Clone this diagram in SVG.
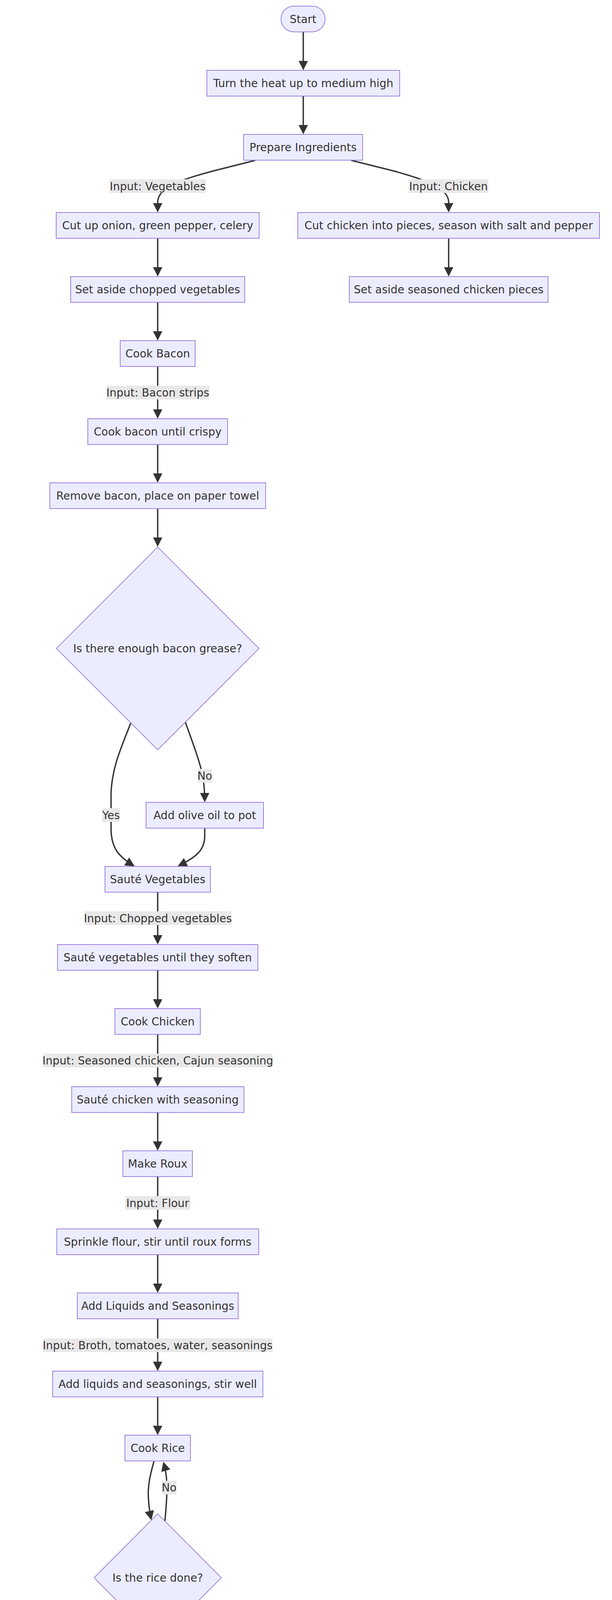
<svg xmlns="http://www.w3.org/2000/svg" width="1568" height="5128" viewBox="0 0 1568 5128">
<style>
.nd{fill:#ECECFF;stroke:#9370DB;stroke-width:1.75}
.t{font-family:"DejaVu Sans","Liberation Sans",sans-serif;font-size:28px;fill:#333333;text-anchor:middle}
.e{fill:none;stroke:#333333;stroke-width:3.5;marker-end:url(#arr)}
.lb{fill:#e8e8e8}
</style>
<defs>
<marker id="arr" viewBox="0 0 10 10" refX="8.4" refY="5" markerUnits="userSpaceOnUse" markerWidth="24" markerHeight="24" orient="auto">
<path d="M0,0 L10,5 L0,10 z" fill="#333333"/>
</marker>
</defs>
<rect x="0" y="0" width="1568" height="5128" fill="#ffffff"/>
<g id="connectors">
<path class="e" d="M777,81.5 L777,176"/>
<path class="e" d="M777,246 L777,340"/>
<path class="e" d="M654,410.5 L545,438 C470,458 404,478 404,518 L404,540"/>
<path class="e" d="M900,410.5 L1010,438 C1080,458 1149.5,478 1149.5,518 L1149.5,540"/>
<path class="e" d="M404,610 L404,704"/>
<path class="e" d="M1149.5,610 L1149.5,704"/>
<path class="e" d="M404,774 L404,868"/>
<path class="e" d="M404,938 L404,1068"/>
<path class="e" d="M404,1138 L404,1232"/>
<path class="e" d="M404,1302 L404,1396"/>
<path class="e" d="M475,1849 C495,1905 512,1950 519,1985 C523.5,2010 524.5,2028 524.5,2050"/>
<path class="e" d="M335,1851 C310,1915 287,1965 284.5,2030 L284.5,2120 C284.5,2170 303,2192 341.7,2215.7"/>
<path class="e" d="M524.5,2120 L524.5,2140 C524.5,2175 505,2193 458.5,2216"/>
<path class="e" d="M404,2284 L404,2414"/>
<path class="e" d="M404,2484 L404,2578"/>
<path class="e" d="M404,2648 L404,2778"/>
<path class="e" d="M404,2848 L404,2942"/>
<path class="e" d="M404,3012 L404,3142"/>
<path class="e" d="M404,3212 L404,3306"/>
<path class="e" d="M404,3376 L404,3506"/>
<path class="e" d="M404,3576 L404,3670"/>
<path class="e" d="M394.4,3741 C385,3775 379,3800 380,3830 C381,3855 383.5,3872 387,3888"/>
<path class="e" d="M422.4,3894 C426,3860 428,3830 427.5,3800 C427,3778 424,3762 419.5,3745.6"/>
<path class="e" d="M404,4202 L404,4332"/>
<path class="e" d="M404,4402 L404,4496"/>
<path class="e" d="M404,4566 L404,4660"/>
<path class="e" d="M404,4730 L404,4824"/>
<path class="e" d="M404,4894 L404,4988"/>
</g>
<g id="edge-labels">
<rect class="lb" x="281" y="459" width="246" height="35"/><text class="t" x="404" y="486.5">Input: Vegetables</text>
<rect class="lb" x="1047" y="459" width="204" height="35"/><text class="t" x="1149" y="486.5">Input: Chicken</text>
<rect class="lb" x="272.4" y="987.5" width="263.8" height="35"/><text class="t" x="404.3" y="1015">Input: Bacon strips</text>
<rect class="lb" x="506.5" y="1968.5" width="36.5" height="35"/><text class="t" x="524.7" y="1996">No</text>
<rect class="lb" x="262" y="2069" width="45" height="35"/><text class="t" x="284.5" y="2096.5">Yes</text>
<rect class="lb" x="216.3" y="2333" width="376.7" height="35"/><text class="t" x="404.6" y="2360.5">Input: Chopped vegetables</text>
<rect class="lb" x="110.7" y="2697.4" width="587.3" height="35"/><text class="t" x="404.3" y="2725">Input: Seasoned chicken, Cajun seasoning</text>
<rect class="lb" x="321" y="3062" width="166" height="35"/><text class="t" x="404" y="3089.5">Input: Flour</text>
<rect class="lb" x="110" y="3426.5" width="588" height="35"/><text class="t" x="404" y="3454">Input: Broth, tomatoes, water, seasonings</text>
<rect class="lb" x="414.8" y="3790.8" width="37.2" height="35"/><text class="t" x="433.4" y="3818.3">No</text>
<rect class="lb" x="382" y="4251.5" width="44" height="35"/><text class="t" x="404" y="4279">Yes</text>
</g>
<g id="n-start"><rect class="nd" x="720" y="15.5" width="113" height="66" rx="33" ry="33"/><text class="t" x="776.5" y="58.5">Start</text></g>
<g id="n-heat"><rect class="nd" x="530" y="180" width="494" height="66"/><text class="t" x="777" y="223">Turn the heat up to medium high</text></g>
<g id="n-prepare"><rect class="nd" x="624" y="344" width="305" height="66"/><text class="t" x="776.5" y="387">Prepare Ingredients</text></g>
<g id="n-cutveg"><rect class="nd" x="144" y="544" width="520" height="66"/><text class="t" x="404" y="587">Cut up onion, green pepper, celery</text></g>
<g id="n-cutchicken"><rect class="nd" x="763" y="544" width="773" height="66"/><text class="t" x="1149.5" y="587">Cut chicken into pieces, season with salt and pepper</text></g>
<g id="n-asideveg"><rect class="nd" x="181" y="708" width="446" height="66"/><text class="t" x="404" y="751">Set aside chopped vegetables</text></g>
<g id="n-asidechicken"><rect class="nd" x="895" y="708" width="509" height="66"/><text class="t" x="1149.5" y="751">Set aside seasoned chicken pieces</text></g>
<g id="n-cookbacon"><rect class="nd" x="308" y="872" width="192" height="66"/><text class="t" x="404" y="915">Cook Bacon</text></g>
<g id="n-crispy"><rect class="nd" x="225" y="1072" width="358" height="66"/><text class="t" x="404" y="1115">Cook bacon until crispy</text></g>
<g id="n-removebacon"><rect class="nd" x="127.6" y="1236" width="553" height="66"/><text class="t" x="404" y="1279">Remove bacon, place on paper towel</text></g>
<g id="n-grease"><polygon class="nd" points="404,1400.5 663.5,1660 404,1919.5 144.5,1660"/><text class="t" x="404" y="1670">Is there enough bacon grease?</text></g>
<g id="n-oliveoil"><rect class="nd" x="374.3" y="2054" width="300.8" height="66"/><text class="t" x="524.7" y="2097">Add olive oil to pot</text></g>
<g id="n-sauteveg"><rect class="nd" x="269" y="2218" width="270" height="66"/><text class="t" x="404" y="2261">Sauté Vegetables</text></g>
<g id="n-soften"><rect class="nd" x="147.4" y="2418" width="513.3" height="66"/><text class="t" x="404" y="2461">Sauté vegetables until they soften</text></g>
<g id="n-cookchicken"><rect class="nd" x="294.4" y="2582" width="218.9" height="66"/><text class="t" x="404" y="2625">Cook Chicken</text></g>
<g id="n-sautechicken"><rect class="nd" x="183.7" y="2782" width="441.3" height="66"/><text class="t" x="404" y="2825">Sauté chicken with seasoning</text></g>
<g id="n-roux"><rect class="nd" x="314.8" y="2946" width="178.1" height="66"/><text class="t" x="404" y="2989">Make Roux</text></g>
<g id="n-sprinkle"><rect class="nd" x="145.4" y="3146" width="517.4" height="66"/><text class="t" x="404" y="3189">Sprinkle flour, stir until roux forms</text></g>
<g id="n-liquids"><rect class="nd" x="198" y="3310" width="412.2" height="66"/><text class="t" x="404" y="3353">Add Liquids and Seasonings</text></g>
<g id="n-stirwell"><rect class="nd" x="134.7" y="3510" width="538.8" height="66"/><text class="t" x="404" y="3553">Add liquids and seasonings, stir well</text></g>
<g id="n-cookrice"><rect class="nd" x="320" y="3674" width="167.8" height="66"/><text class="t" x="404" y="3717">Cook Rice</text></g>
<g id="n-ricedone"><polygon class="nd" points="404,3875.5 567,4039 404,4202.5 241,4039"/><text class="t" x="404" y="4049">Is the rice done?</text></g>
<g id="n-proceed"><rect class="nd" x="242.3" y="4336" width="323" height="66"/><text class="t" x="404" y="4379">Proceed to next step</text></g>
<g id="n-finalizing"><rect class="nd" x="284.2" y="4500" width="240.3" height="66"/><text class="t" x="404" y="4543">Finalizing Soup</text></g>
<g id="n-removesoup"><rect class="nd" x="47" y="4664" width="714.7" height="66"/><text class="t" x="404" y="4707">Remove the soup from heat, take out bay leaves</text></g>
<g id="n-finished"><polygon class="nd" points="48.5,4828 793.4,4828 761,4894 15.5,4894"/><text class="t" x="404.3" y="4871">Finished chicken and rice soup ready to be served</text></g>
<g id="n-end"><rect class="nd" x="355.6" y="4992" width="97" height="66" rx="33" ry="33"/><text class="t" x="404" y="5035">End</text></g>
</svg>
